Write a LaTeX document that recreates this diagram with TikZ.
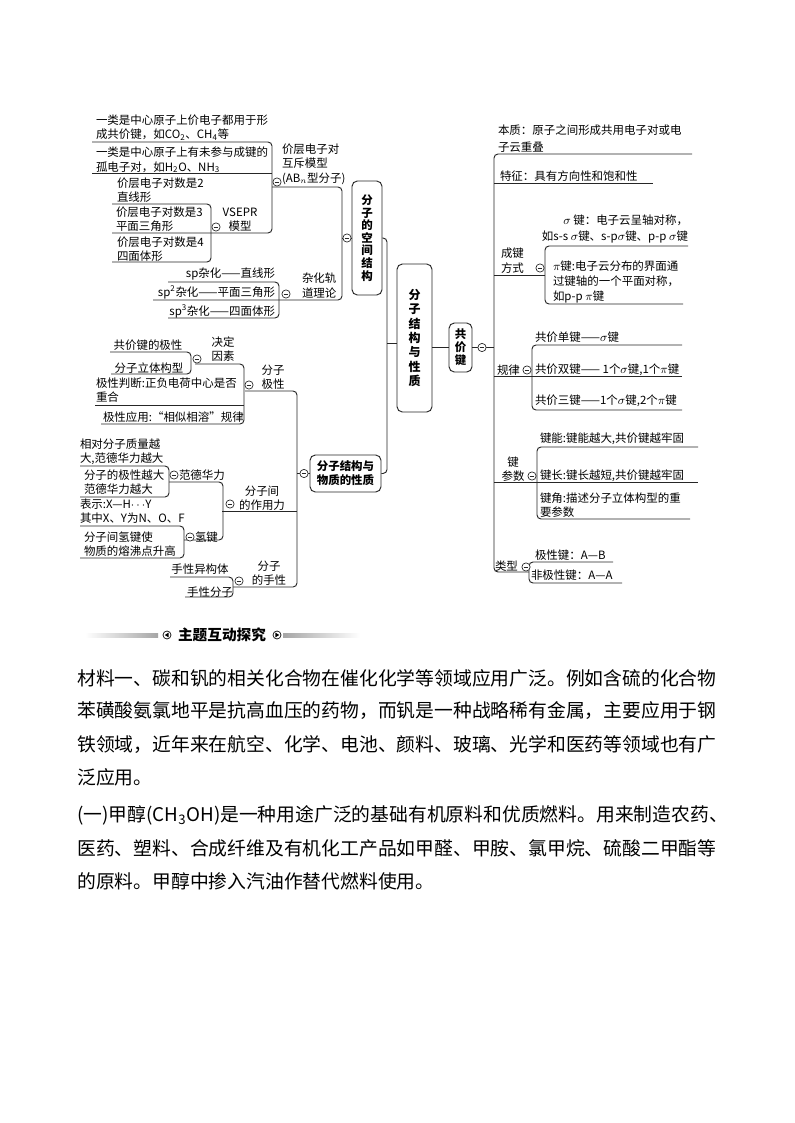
\documentclass[tikz,border=0pt]{standalone}
\usepackage{fontspec}
\setmainfont{Noto Sans CJK SC}
\usetikzlibrary{calc}
\begin{document}
\begin{tikzpicture}[x=0.75pt,y=-0.75pt,
  tx/.style={inner sep=0pt, outer sep=0pt, font=\fontsize{8.6}{10.6}\selectfont, align=left},
  tl/.style={tx, anchor=west},
  tc/.style={tx, anchor=center, align=center},
  tr/.style={tx, anchor=east, align=right},
  ln/.style={line width=0.7pt, draw=black!85},
  brk/.style={ln, rounded corners=3pt},
  mc/.style={circle, draw=black!85, line width=0.5pt, minimum size=6.2pt, inner sep=0pt, fill=white,
     path picture={\draw[line width=0.5pt] ([xshift=1.3pt]path picture bounding box.west) -- ([xshift=-1.3pt]path picture bounding box.east);}},
  bx/.style={draw=black!85, line width=0.7pt, rounded corners=4pt, inner sep=0pt, align=center},
  para/.style={anchor=west, inner sep=0pt, font=\fontsize{14.1}{16}\selectfont},
]
\useasboundingbox[fill=white] (0,0) rectangle (794,1123);

% ---------- boxes ----------
\node[bx, minimum width=22.5pt, minimum height=85.5pt, font=\bfseries\fontsize{8.6}{9.45}\selectfont] (A) at (367,238) {分\\子\\的\\空\\间\\结\\构};
\node[bx, minimum width=26.25pt, minimum height=111pt, font=\bfseries\fontsize{9}{10.7}\selectfont] (B) at (414.5,338) {分\\子\\结\\构\\与\\性\\质};
\node[bx, minimum width=17.25pt, minimum height=36.75pt, font=\bfseries\fontsize{8.6}{9.75}\selectfont] (C) at (460.5,347.5) {共\\价\\键};
\node[bx, minimum width=53.25pt, minimum height=27.75pt, font=\bfseries\fontsize{8.6}{10.5}\selectfont] (D) at (345.5,473.5) {分子结构与\\物质的性质};

% ---------- box connectors ----------
\draw[brk] (A.east) -- (387,238) -- (387,473.5) -- (D.east);
\draw[ln] (387,343) -- ([yshift=-3.75pt]B.west);
\draw[ln] (B.east |- C.west) -- (C.west);
\draw[ln] (C.east) -- (494,347.5);
\draw[ln] (A.west) -- (342,238);
\draw[ln] (D.west) -- (297,473.5);

% ---------- top-left brackets ----------
\draw[brk] (92,142) -- (272,142) -- (272,233) -- (112,233);
\draw[ln] (92,173) -- (272,173);
\draw[brk] (272,187) -- (342,187) -- (342,300) -- (153,300);
\draw[brk] (112,204) -- (211,204) -- (211,262) -- (112,262);
\draw[brk] (168,282) -- (279,282) -- (279,318) -- (168,318);

% ---------- lower-left brackets ----------
\draw[brk] (245,391) -- (297,391) -- (297,587) -- (233,587);
\draw[ln] (222,511) -- (297,511);
\draw[brk] (195,364) -- (244,364) -- (244,424) -- (101,424);
\draw[ln] (95,405) -- (244,405);
\draw[brk] (110,352) -- (191,352) -- (191,374) -- (111,374);
\draw[brk] (169,482) -- (223,482) -- (223,540) -- (184,540);
\draw[brk] (80,466) -- (169,466) -- (169,497) -- (80,497);
\draw[brk] (80,526) -- (184,526) -- (184,558) -- (80,558);
\draw[brk] (170,577) -- (233,577) -- (233,597) -- (185,597);

% ---------- right brackets ----------
\draw[brk] (692,154) -- (494,154) -- (494,572) -- (529,572);
\draw[ln] (494,183) -- (653,183);
\draw[ln] (494,275) -- (545,275);
\draw[brk] (688,246) -- (545,246) -- (545,304) -- (683,304);
\draw[ln] (494,376) -- (682,376);
\draw[brk] (682,345) -- (532,345) -- (532,410) -- (682,410);
\draw[ln] (494,482) -- (698,482);
\draw[brk] (698,447) -- (537,447) -- (537,519) -- (690,519);
\draw[brk] (613,562) -- (529,562) -- (529,583) -- (622,583);

% ---------- collapse marks ----------
\node[mc] (m1) at (277,182) {};
\node[mc] (m2) at (216,227) {};
\node[mc] (m3) at (286,294) {};
\node[mc] (m4) at (347,238) {};
\node[mc] (m5) at (197,359) {};
\node[mc] (m6) at (249,385) {};
\node[mc] (m7) at (174,475) {};
\node[mc] (m8) at (190,537) {};
\node[mc] (m9) at (230,504) {};
\node[mc] (m10) at (239,581) {};
\node[mc] (m11) at (304,473.5) {};
\node[mc] (m12) at (482,347.5) {};
\node[mc] (m13) at (540,268) {};
\node[mc] (m14) at (527,370) {};
\node[mc] (m15) at (532,476) {};
\node[mc] (m16) at (526,567) {};

% ---------- top-left texts ----------
\node[tl] (t1) at (96,127.5) {一类是中心原子上价电子都用于形\\成共价键，如CO\textsubscript{2}、CH\textsubscript{4}等};
\node[tl] (t2) at (96,160) {一类是中心原子上有未参与成键的\\孤电子对，如H\textsubscript{2}O、NH\textsubscript{3}};
\node[tl] (t3) at (117,190) {价层电子对数是2\\直线形};
\node[tl] (t4) at (116,219.5) {价层电子对数是3\\平面三角形};
\node[tl] (t5) at (117,249.5) {价层电子对数是4\\四面体形};
\node[tc] (t6) at (240,219.5) {VSEPR\\模型};
\node[tl, font=\fontsize{8.6}{11}\selectfont] (t7) at (282,164) {价层电子对\\互斥模型\\(AB$_n$型分子)};
\node[tl] (t8) at (302,285.5) {杂化轨\\道理论};
\node[tr] (t9) at (275,274) {sp杂化——直线形};
\node[tr] (t10) at (275,292) {sp\textsuperscript{2}杂化——平面三角形};
\node[tr] (t11) at (275,311) {sp\textsuperscript{3}杂化——四面体形};

% ---------- lower-left texts ----------
\node[tc] (t12) at (148,345) {共价键的极性};
\node[tc] (t13) at (149,368) {分子立体构型};
\node[tc] (t14) at (223,349.5) {决定\\因素};
\node[tl] (t15) at (96,390) {极性判断:正负电荷中心是否\\重合};
\node[tl] (t16) at (103,417) {极性应用:“相似相溶”规律};
\node[tc] (t17) at (273,377) {分子\\极性};
\node[tl] (t18) at (80,451.5) {相对分子质量越\\大,范德华力越大};
\node[tl] (t19) at (84,482.5) {分子的极性越大\\范德华力越大};
\node[tl] (t20) at (179,475) {范德华力};
\node[tl] (t21) at (80,511.5) {表示:X—H$\cdots$Y\\其中X、Y为N、O、F};
\node[tl] (t22) at (84,544) {分子间氢键使\\物质的熔沸点升高};
\node[tl] (t23) at (195,537) {氢键};
\node[tc] (t24) at (262,498) {分子间\\的作用力};
\node[tc] (t25) at (200,569) {手性异构体};
\node[tc] (t26) at (210,592) {手性分子};
\node[tc] (t27) at (269,573.5) {分子\\的手性};

% ---------- right texts ----------
\node[tl, font=\fontsize{8.6}{12.5}\selectfont] (t28) at (498,138.5) {本质：原子之间形成共用电子对或电\\子云重叠};
\node[tl] (t29) at (500,176) {特征：具有方向性和饱和性};
\node[tl, font=\fontsize{8.6}{11.2}\selectfont] (t30) at (501,260.5) {成键\\方式};
\node[tr, font=\fontsize{8.6}{12}\selectfont] (t31) at (688,229) {$\sigma$ 键：电子云呈轴对称，\\如s-s $\sigma$键、s-p$\sigma$键、p-p $\sigma$键};
\node[tl, font=\fontsize{8.6}{11.2}\selectfont] (t32) at (553,282) {$\pi$键:电子云分布的界面通\\过键轴的一个平面对称，\\如p-p $\pi$键};
\node[tl] (t33) at (497,370) {规律};
\node[tl] (t34) at (535,337) {共价单键——$\sigma$键};
\node[tl] (t35) at (535,370) {共价双键—— 1个$\sigma$键,1个$\pi$键};
\node[tl] (t36) at (535,401) {共价三键——1个$\sigma$键,2个$\pi$键};
\node[tc] (t37) at (513,469) {键\\参数};
\node[tl] (t38) at (540,439) {键能:键能越大,共价键越牢固};
\node[tl] (t39) at (540,476) {键长:键长越短,共价键越牢固};
\node[tl] (t40) at (540,505.5) {键角:描述分子立体构型的重\\要参数};
\node[tl] (t41) at (495,566) {类型};
\node[tl] (t42) at (535,555) {极性键：A—B};
\node[tl] (t43) at (531,575) {非极性键：A—A};

% ---------- header ----------
\shade[left color=white, right color=black!35] (85,633) rectangle (158,637);
\shade[left color=black!35, right color=white] (283,633) rectangle (360,637);
\node[inner sep=0pt, font=\bfseries\fontsize{11}{12}\selectfont] (hd) at (222,635) {主题互动探究};
\draw[line width=0.5pt] (167,635) circle (3pt);
\fill (164.8,635) -- (168.6,632.6) -- (168.6,637.4) -- cycle;
\draw[line width=0.5pt] (277,635) circle (3pt);
\fill (279.2,635) -- (275.4,632.6) -- (275.4,637.4) -- cycle;

% ---------- paragraph ----------
\node[para] (p1) at (77,678) {材料一、碳和钒的相关化合物在催化化学等领域应用广泛。例如含硫的化合物};
\node[para] (p2) at (77,711) {苯磺酸氨氯地平是抗高血压的药物，而钒是一种战略稀有金属，主要应用于钢};
\node[para] (p3) at (77,744) {铁领域，近年来在航空、化学、电池、颜料、玻璃、光学和医药等领域也有广};
\node[para] (p4) at (77,777) {泛应用。};
\node[para] (p5) at (77,815) {(一)甲醇(CH\textsubscript{3}OH)是一种用途广泛的基础有机原料和优质燃料。用来制造农药、};
\node[para] (p6) at (77,848) {医药、塑料、合成纤维及有机化工产品如甲醛、甲胺、氯甲烷、硫酸二甲酯等};
\node[para] (p7) at (77,881) {的原料。甲醇中掺入汽油作替代燃料使用。};
\end{tikzpicture}
\end{document}
